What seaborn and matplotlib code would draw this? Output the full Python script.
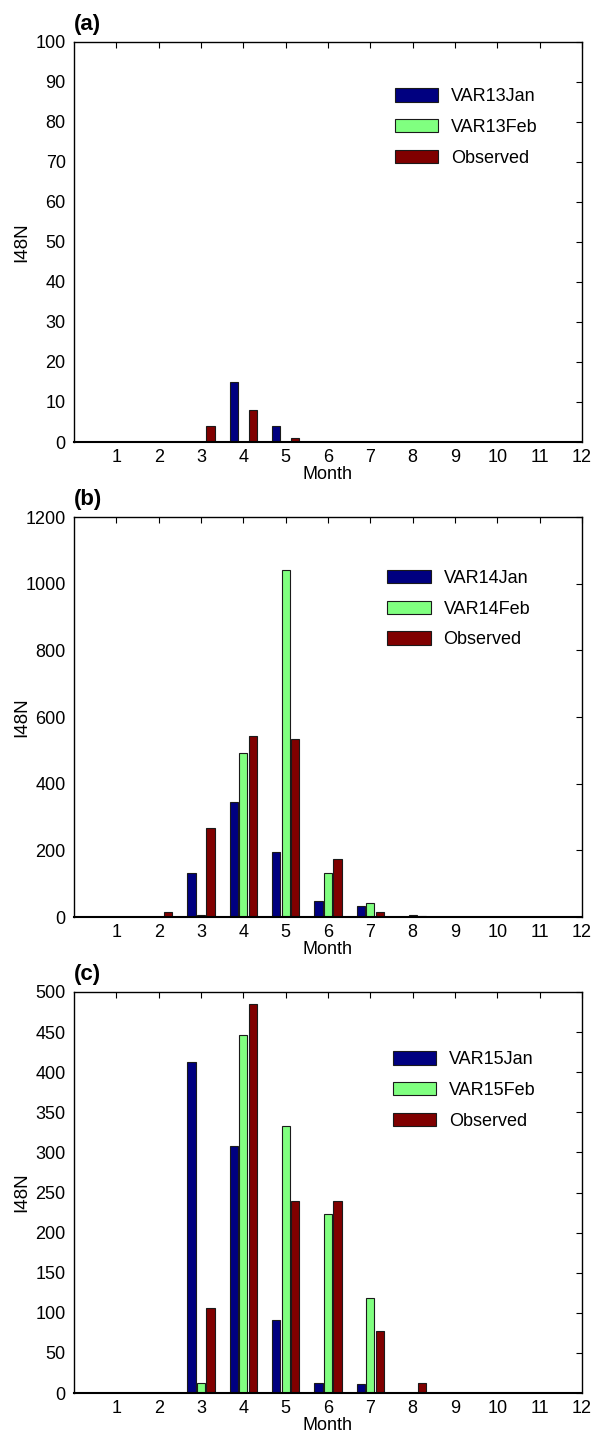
import numpy as np
import pandas as pd
import matplotlib
matplotlib.use("Agg")
import matplotlib.pyplot as plt
import seaborn as sns

months = list(range(1, 13))

# Panel (a)
var13_jan = [0, 0, 0, 15, 4, 0, 0, 0, 0, 0, 0, 0]
var13_feb = [0, 0, 0, 0, 0, 0, 0, 0, 0, 0, 0, 0]
obs_a = [0, 0, 4, 8, 1, 0, 0, 0, 0, 0, 0, 0]

# Panel (b)
var14_jan = [0, 0, 133, 344, 195, 47, 33, 0, 0, 0, 0, 0]
var14_feb = [0, 0, 5, 491, 1042, 131, 43, 7, 0, 0, 0, 0]
obs_b = [0, 16, 268, 542, 533, 173, 16, 2, 0, 0, 0, 0]

# Panel (c)
var15_jan = [0, 0, 413, 308, 91, 13, 11, 0, 0, 0, 0, 0]
var15_feb = [0, 0, 13, 446, 333, 223, 119, 0, 0, 0, 0, 0]
obs_c = [0, 0, 106, 485, 240, 240, 77, 13, 0, 0, 0, 0]

panel_labels = ["(a)", "(b)", "(c)"]
series_names = [["VAR13Jan", "VAR13Feb", "Observed"],
                ["VAR14Jan", "VAR14Feb", "Observed"],
                ["VAR15Jan", "VAR15Feb", "Observed"]]
panel_data = [[var13_jan, var13_feb, obs_a],
              [var14_jan, var14_feb, obs_b],
              [var15_jan, var15_feb, obs_c]]
ylims = [(0, 100), (0, 1200), (0, 500)]
yticks = [np.arange(0, 101, 10), np.arange(0, 1201, 200), np.arange(0, 501, 50)]
legend_pos = [(0.632, 0.885), (0.617, 0.868), (0.628, 0.853)]

colors = ["#000080", "#80FF80", "#800000"]

sns.set_style("white")
plt.rcParams["font.family"] = ["Liberation Sans", "DejaVu Sans"]
plt.rcParams["font.size"] = 13
plt.rcParams["text.color"] = "black"
plt.rcParams["axes.labelcolor"] = "black"

fig = plt.figure(figsize=(6.03, 14.37), dpi=100)
W, H = 603, 1437
left, right = 74, 582
tops = [42, 517, 992]
bottoms = [442, 917, 1393]

for i in range(3):
    ax = fig.add_axes([left / W, 1 - bottoms[i] / H, (right - left) / W,
                       (bottoms[i] - tops[i]) / H])
    rows = []
    for name, vals in zip(series_names[i], panel_data[i]):
        for m, v in zip(months, vals):
            rows.append({"Month": m, "value": v, "series": name})
    df = pd.DataFrame(rows)
    sns.barplot(data=df, x="Month", y="value", hue="series",
                hue_order=series_names[i], palette=colors, saturation=1,
                native_scale=True, width=0.675, gap=0.15,
                edgecolor="#1a1a1a", linewidth=0.8, errorbar=None,
                ax=ax, legend=True)
    ax.set_xlim(0, 12)
    ax.set_ylim(*ylims[i])
    ax.set_xticks(months)
    ax.set_xticklabels([str(m) for m in months])
    ax.set_yticks(yticks[i])
    ax.set_yticklabels([str(int(t)) for t in yticks[i]])
    ax.tick_params(direction="in", top=True, right=True, length=4,
                   width=0.8, labelsize=13, colors="black")
    ax.tick_params(axis="x", pad=5)
    ax.tick_params(axis="y", pad=6)
    for s in ax.spines.values():
        s.set_visible(True)
        s.set_color("black")
        s.set_linewidth(1.0)
    ax.spines["bottom"].set_linewidth(1.5)
    ax.set_xlabel("Month", fontsize=13, labelpad=0)
    ax.set_ylabel("I48N", fontsize=13.5)
    ax.yaxis.set_label_coords(-0.087, 0.5)
    handles, labels = ax.get_legend_handles_labels()
    leg = ax.legend(handles, labels, loc="upper left",
                    bbox_to_anchor=legend_pos[i], frameon=False,
                    handlelength=2.39, handleheight=0.78, labelspacing=0.76,
                    handletextpad=0.72, borderpad=0, borderaxespad=0,
                    fontsize=13)
    for t in leg.get_texts():
        t.set_color("black")
    ax.text(0.0, 1.017, panel_labels[i], transform=ax.transAxes,
            fontsize=16, fontweight="bold", ha="left", va="bottom",
            color="black")

fig.savefig("out.png", dpi=100)
